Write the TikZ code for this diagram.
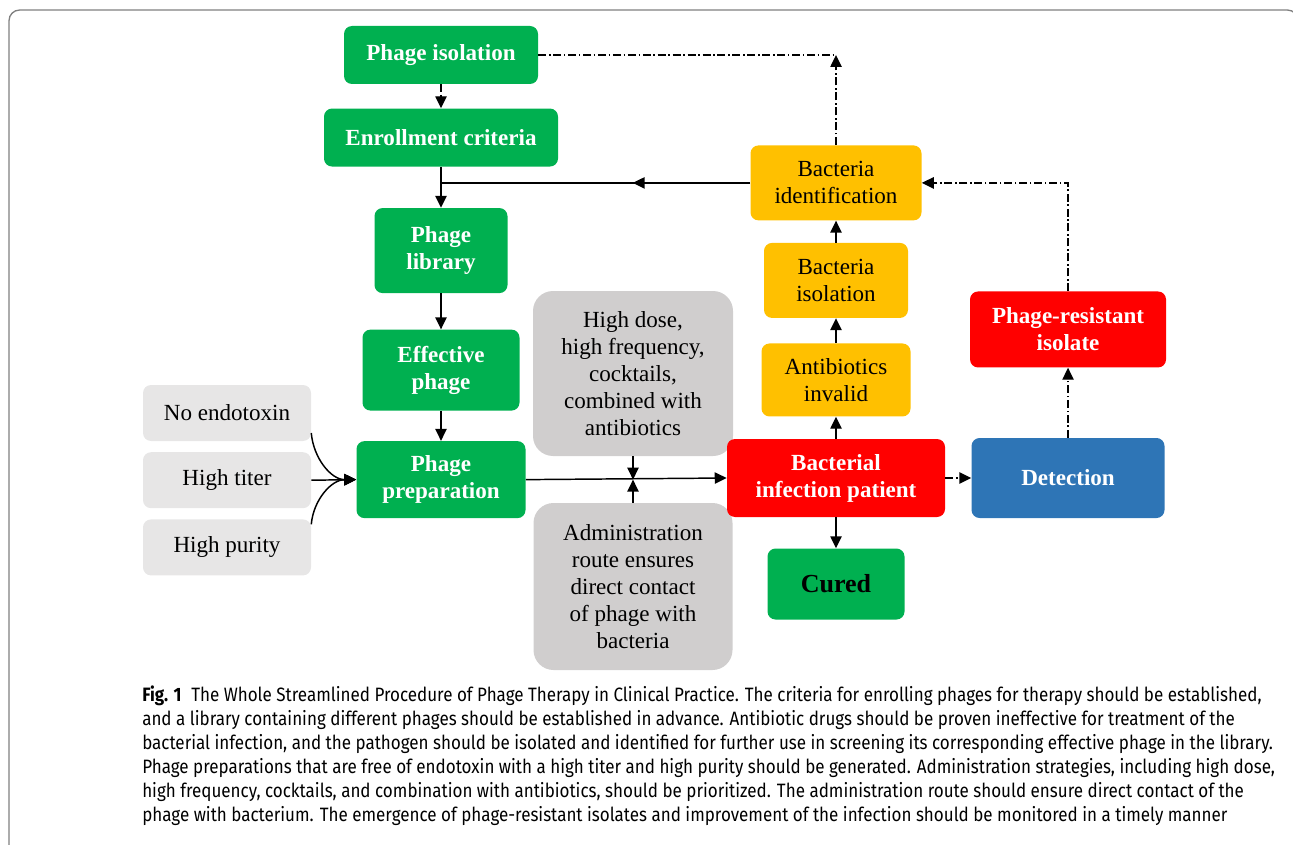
\documentclass[tikz,border=0pt]{standalone}
\usepackage{fontspec}
\setmainfont{Liberation Serif}
\newfontfamily\capfont[FakeStretch=0.88]{Fira Sans}
\usetikzlibrary{arrows.meta, positioning, decorations.markings}
\definecolor{phgreen}{RGB}{0,176,80}
\definecolor{phyellow}{RGB}{255,192,0}
\definecolor{phred}{RGB}{255,0,0}
\definecolor{phblue}{RGB}{46,117,182}
\definecolor{phgray}{RGB}{208,206,206}
\definecolor{phlight}{RGB}{231,230,230}
\definecolor{framegray}{RGB}{128,128,128}

\begin{document}
\begin{tikzpicture}[
  x=0.75pt, y=0.75pt,
  box/.style={rectangle, rounded corners=6pt, fill=#1, inner sep=0pt, align=center,
              font=\fontsize{17.3}{20.2}\selectfont},
  sz/.style 2 args={minimum width=#1*0.75pt, minimum height=#2*0.75pt},
  wb/.style={text=white, font=\fontsize{17.3}{20.2}\selectfont\bfseries},
  arr/.style={-{Triangle[length=9pt, width=8.5pt]}, line width=1.1pt},
  line/.style={line width=1.1pt},
  dd/.style={line width=0.9pt, dash pattern=on 6pt off 2pt on 1.2pt off 2pt},
  midarr/.style={postaction={decorate}, decoration={markings,
                 mark=at position 0.38 with {\arrow{Triangle[length=9pt, width=8.5pt]}}}}
]
\useasboundingbox (0,0) rectangle (1293,-845);

% frame of the figure
\draw[framegray, line width=1pt, rounded corners=8pt] (9,-900) -- (9,-10) -- (1298,-10) -- (1298,-900);

% left column
\node[box=phgreen, wb, sz={194}{58}] (iso) at (441,-55) {Phage isolation};
\node[box=phgreen, wb, sz={234}{58}, below=18pt of iso] (enr) {Enrollment criteria};
\node[box=phgreen, wb, sz={133}{85}, below=30.75pt of enr] (lib) {Phage\\library};
\node[box=phgreen, wb, sz={157}{81}, below=27pt of lib] (eff) {Effective\\phage};
\node[box=phgreen, wb, sz={169}{77}, below=22.5pt of eff] (prep) {Phage\\preparation};

% quality of the preparation
\node[box=phlight, sz={168}{56}] (noe) at (227,-413) {No endotoxin};
\node[box=phlight, sz={168}{56}, below=8pt of noe] (hti) {High titer};
\node[box=phlight, sz={168}{56}, below=8pt of hti] (hpu) {High purity};

% administration
\node[box=phgray, rounded corners=15pt, sz={200}{165}] (hd) at (633,-373.5)
  {High dose,\\high frequency,\\cocktails,\\combined with\\antibiotics};
\node[box=phgray, rounded corners=15pt, sz={199}{167}] (adm) at (633,-586.5)
  {Administration\\route ensures\\direct contact\\of phage with\\bacteria};

% right part
\node[box=phred, wb, sz={218}{78}] (bip) at (836,-478) {Bacterial\\infection patient};
\node[box=phgreen, sz={137}{71}, below=23.25pt of bip,
      font=\fontsize{19.5}{22}\selectfont\bfseries] (cur) {Cured};
\node[box=phyellow, sz={149}{73}, above=16.5pt of bip] (abi) {Antibiotics\\invalid};
\node[box=phyellow, sz={144}{75}, above=18.75pt of abi] (bis) {Bacteria\\isolation};
\node[box=phyellow, sz={171}{75}, above=16.5pt of bis] (bid) {Bacteria\\identification};
\node[box=phblue, wb, sz={193}{80}, right=19.5pt of bip] (det) {Detection};
\node[box=phred, wb, sz={196}{76}, above=52.5pt of det] (pri) {Phage-resistant\\isolate};

% caption
\node[anchor=north west, inner sep=0pt, align=left,
      font=\capfont\fontsize{14.5}{18}\selectfont] (cap) at (142,-686)
  {\textbf{Fig. 1}\enspace The Whole Streamlined Procedure of Phage Therapy in Clinical Practice. The criteria for enrolling phages for therapy should be established,\\
   and a library containing different phages should be established in advance. Antibiotic drugs should be proven ineffective for treatment of the\\
   bacterial infection, and the pathogen should be isolated and identified for further use in screening its corresponding effective phage in the library.\\
   Phage preparations that are free of endotoxin with a high titer and high purity should be generated. Administration strategies, including high dose,\\
   high frequency, cocktails, and combination with antibiotics, should be prioritized. The administration route should ensure direct contact of the\\
   phage with bacterium. The emergence of phage-resistant isolates and improvement of the infection should be monitored in a timely manner};

% connectors
\coordinate (topturn) at (bid.north |- iso.east);
\draw[dd] (iso.east) -- (topturn);
\draw[dd, arr] (bid.north) -- (topturn);
\draw[dd, arr] (iso.south) -- (enr.north);
\draw[arr] (enr.south) -- (lib.north);
\draw[line, midarr] (bid.west) -- (bid.west -| enr.south);
\draw[arr] (lib) -- (eff);
\draw[arr] (eff) -- (prep);

\draw[arr] ([yshift=-15pt]noe.east) to[out=-85, in=180] (prep.west);
\draw[arr] (hti.east) -- (prep.west);
\draw[arr] ([yshift=17.25pt]hpu.east) to[out=85, in=180] (prep.west);

\draw[arr] (prep.east) -- (bip.west);
\draw[arr] (hd.south) -- (hd.south |- prep.east);
\draw[arr] (adm.north) -- (adm.north |- prep.east);

\draw[arr] (bip) -- (cur);
\draw[arr] (bip) -- (abi);
\draw[arr] (abi) -- (bis);
\draw[arr] (bis) -- (bid);
\draw[dd, arr] (bip.east) -- (det.west);
\draw[dd, arr] (det.north) -- (pri.south);
\draw[dd, arr] (pri.north) |- (bid.east);

\end{tikzpicture}
\end{document}
